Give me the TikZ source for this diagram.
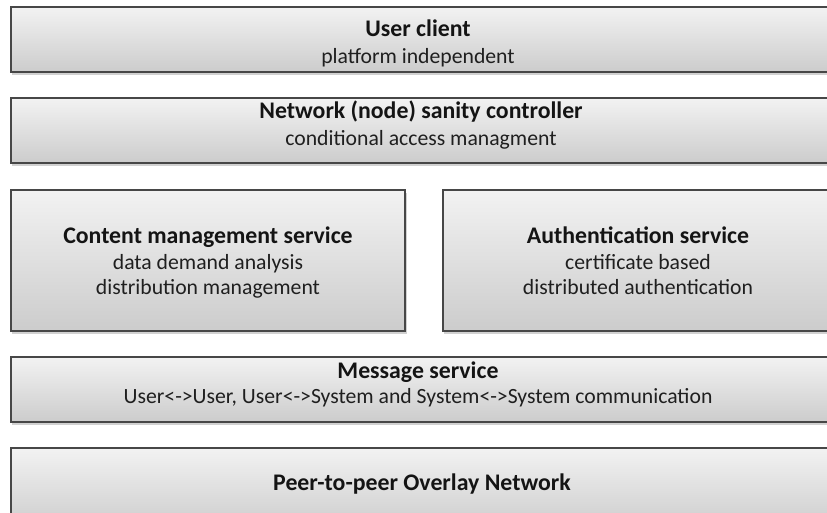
\documentclass[tikz,border=0pt]{standalone}
\usepackage{fontspec}
\setmainfont{Carlito}
\begin{document}
\begin{tikzpicture}[x=1pt,y=-1pt,
  layerbox/.style={draw=black!72, line width=1.4pt, top color=black!5, bottom color=black!20},
  layershadow/.style={fill=black!18, draw=none},
  ttl/.style={anchor=base, font=\fontsize{23.8}{28}\selectfont\bfseries, text=black!92, inner sep=0pt},
  sub/.style={anchor=base, font=\fontsize{21.7}{26}\selectfont, text=black!88, inner sep=0pt}]
\useasboundingbox (0,0) rectangle (827,512);
\clip (0,0) rectangle (827,512);
% shadows
\fill[layershadow] (12,10) rectangle (840,75);
\fill[layershadow] (12,101) rectangle (840,166);
\fill[layershadow] (12,193) rectangle (407,334);
\fill[layershadow] (444,193) rectangle (840,334);
\fill[layershadow] (12,360) rectangle (840,425);
% boxes
\path[layerbox] (11,7) rectangle (834,72) node[pos=0.5, inner sep=0] (uc) {};
\path[layerbox] (11,98) rectangle (834,163) node[pos=0.5, inner sep=0] (nsc) {};
\path[layerbox] (11,190) rectangle (405,331) node[pos=0.5, inner sep=0] (cms) {};
\path[layerbox] (443,190) rectangle (834,331) node[pos=0.5, inner sep=0] (as) {};
\path[layerbox] (11,357) rectangle (834,422) node[pos=0.5, inner sep=0] (ms) {};
\path[layerbox] (11,448) rectangle (834,530) node[pos=0.5, inner sep=0] (p2p) {};
% texts
\node[ttl] (uct) at (418,36) {User client};
\node[sub] (ucs) at (418,63) {platform independent};
\node[ttl] (nsct) at (421,118) {Network (node) sanity controller};
\node[sub] (nscs) at (421,145) {conditional access managment};
\node[ttl] (cmst) at (208,243) {Content management service};
\node[sub] (cms1) at (208,269) {data demand analysis};
\node[sub] (cms2) at (208,294) {distribution management};
\node[ttl] (ast) at (638,243) {Authentication service};
\node[sub] (as1) at (638,269) {certificate based};
\node[sub] (as2) at (638,294) {distributed authentication};
\node[ttl] (mst) at (418,378) {Message service};
\node[sub] (mss) at (418,403) {User<->User, User<->System and System<->System communication};
\node[ttl] (p2pt) at (422,490) {Peer-to-peer Overlay Network};
\end{tikzpicture}
\end{document}
